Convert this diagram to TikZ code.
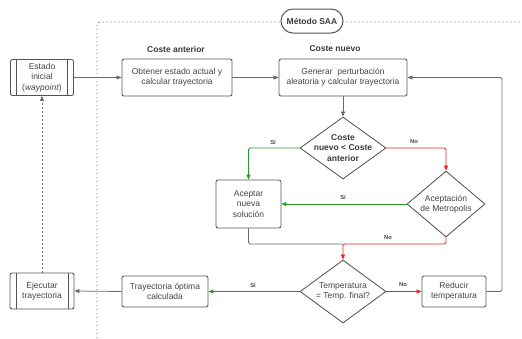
\documentclass[tikz,border=0pt]{standalone}
\usepackage{fontspec}
\setmainfont{Liberation Sans}
\usetikzlibrary{shapes.geometric,arrows.meta}
\definecolor{lineg}{HTML}{6a6a6a}
\definecolor{boxb}{HTML}{555555}
\definecolor{txt}{HTML}{454545}
\definecolor{grn}{HTML}{2a9a2a}
\definecolor{rdd}{HTML}{e02828}
\begin{document}
\begin{tikzpicture}[x=1pt,y=-1pt,
  font=\fontsize{8.5}{10.4}\selectfont, text=txt,
  box/.style={draw=boxb, line width=0.85pt, rounded corners=2pt, fill=white, align=center, inner sep=0pt},
  dia/.style={draw=boxb, line width=0.85pt, diamond, fill=white, inner sep=0pt},
  diatext/.style={align=center, inner sep=0pt},
  conn/.style={draw=lineg, line width=0.75pt, -{Triangle[length=5pt,width=4pt]}},
  gconn/.style={conn, draw=grn, -{Triangle[length=5pt,width=4pt,fill=grn]}},
  rconn/.style={conn, draw=rdd, -{Triangle[length=5pt,width=4pt,fill=rdd]}},
  dotline/.style={draw=lineg, line width=0.9pt, dash pattern=on 1.2pt off 2.8pt},
  lbl/.style={font=\fontsize{5.8}{6}\selectfont\bfseries, text=txt},
  head/.style={font=\fontsize{8.5}{10}\selectfont\bfseries, text=txt!85!black}
]
\useasboundingbox (0,0) rectangle (522,338);

% dotted frame
\draw[dotline, rounded corners=3pt] (97,338) |- (522,22);
\node[draw=boxb, line width=1pt, rounded corners=12pt, fill=white, minimum width=62pt, minimum height=24pt, inner sep=0pt, font=\fontsize{8.5}{10}\selectfont\bfseries, text=txt!85!black] (saa) at (312,21) {Método SAA};

\node[head] (hant) at (176,49) {Coste anterior};
\node[head] (hnue) at (335,49) {Coste nuevo};

% boxes
\node[box, minimum width=63pt, minimum height=36pt] (est) at (42,77.5) {Estado\\inicial\\(\textit{waypoint})};
\draw[boxb, line width=0.85pt] ([xshift=6.5pt]est.north west) -- ([xshift=6.5pt]est.south west)
  ([xshift=-6.5pt]est.north east) -- ([xshift=-6.5pt]est.south east);
\node[box, minimum width=110pt, minimum height=37pt] (obt) at (177,77.5) {Obtener estado actual y\\calcular trayectoria};
\node[box, minimum width=128pt, minimum height=37pt] (gen) at (343,77.5) {Generar\ \ perturbación\\aleatoria y calcular trayectoria};
\node[box, minimum width=65pt, minimum height=48pt] (acp) at (248.5,204) {Aceptar\\nueva\\solución};
\node[box, minimum width=86pt, minimum height=31pt] (tra) at (165,291.5) {Trayectoria óptima\\calculada};
\node[box, minimum width=64pt, minimum height=36pt] (eje) at (42,291) {Ejecutar\\trayectoria};
\draw[boxb, line width=0.85pt] ([xshift=6.5pt]eje.north west) -- ([xshift=6.5pt]eje.south west)
  ([xshift=-6.5pt]eje.north east) -- ([xshift=-6.5pt]eje.south east);
\node[box, rounded corners=1.5pt, minimum width=64pt, minimum height=31pt] (red) at (454,291.5) {Reducir\\temperatura};

% diamonds
\node[dia, minimum width=86pt, minimum height=62pt] (d1) at (343,148) {};
\node[diatext, font=\fontsize{8.5}{10.4}\selectfont\bfseries, text=txt!85!black] (d1t) at (d1.center) {Coste\\nuevo < Coste\\anterior};
\node[dia, minimum width=78pt, minimum height=66pt] (met) at (446,204) {};
\node[diatext] (mett) at (met.center) {Aceptación\\de Metropolis};
\node[dia, minimum width=86pt, minimum height=63pt] (d3) at (343,291.5) {};
\node[diatext] (d3t) at (d3.center) {Temperatura\\= Temp. final?};

\coordinate (j) at (343,244);
\coordinate (rc) at (502,77.5);

% connectors
\draw[conn] (est.east) -- (obt.west);
\draw[conn] (obt.east) -- (gen.west);
\draw[conn] (gen.south) -- (d1.north);
\draw[gconn, rounded corners=1.5pt] (d1.west) -| (acp.north);
\draw[rconn, rounded corners=1.5pt] (d1.east) -| (met.north);
\draw[gconn] (met.west) -- (acp.east);
\draw[draw=lineg, line width=0.75pt, rounded corners=1.5pt] (acp.south) |- (j);
\draw[rconn, rounded corners=1.5pt] (met.south) |- (j) -- (d3.north);
\draw[rconn] (d3.east) -- (red.west);
\draw[gconn] (d3.west) -- (tra.east);
\draw[conn] (tra.west) -- (eje.east);
\draw[conn, rounded corners=1.5pt] (red.east) -| (rc) -- (gen.east);
\draw[dotline, -{Triangle[length=5pt,width=4pt,fill=lineg]}] (eje.north) -- (est.south);

% labels
\node[lbl] (l1) at (273,142) {Sí};
\node[lbl] (l2) at (414,142) {No};
\node[lbl] (l3) at (343,197) {Sí};
\node[lbl] (l4) at (388,237.5) {No};
\node[lbl] (l5) at (403,285) {No};
\node[lbl] (l6) at (253,285) {Sí};
\end{tikzpicture}
\end{document}
